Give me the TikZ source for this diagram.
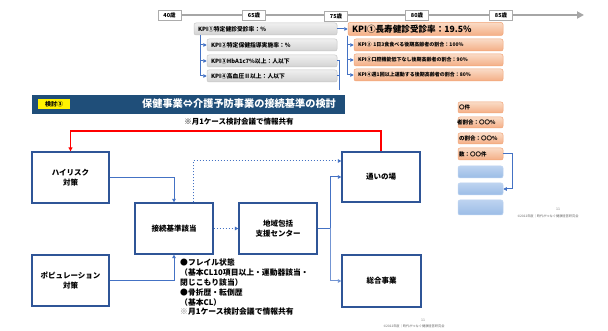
\documentclass[tikz,border=0pt]{standalone}
\usepackage{fontspec}
\setmainfont{Noto Sans CJK JP}
\usetikzlibrary{arrows.meta}
\definecolor{navy}{HTML}{1F4E79}
\definecolor{boxblue}{HTML}{2F5597}
\definecolor{conblue}{HTML}{4472C4}
\definecolor{orlight}{HTML}{FADBC6}
\definecolor{ordark}{HTML}{F4AE85}
\definecolor{orline}{HTML}{F2A477}
\definecolor{bllight}{HTML}{BDD3F0}
\definecolor{bldark}{HTML}{9BBCE6}
\tikzset{
  agebox/.style={draw=gray!65, fill=white, line width=0.9, inner sep=0, minimum width=23, minimum height=10, font=\fontsize{5.5}{6}\selectfont\bfseries},
  graybox/.style={rounded corners=2, top color=gray!12, bottom color=gray!35, draw=gray!45, line width=0.5, inner xsep=4, inner ysep=0, align=left, font=\fontsize{5.8}{6}\selectfont\bfseries},
  orbox/.style={rounded corners=2, top color=orlight, bottom color=ordark, draw=orline, line width=0.5, inner xsep=4, inner ysep=0, align=left, font=\fontsize{5}{6}\selectfont\bfseries},
  blbox/.style={rounded corners=2, top color=bllight, bottom color=bldark, draw=bllight, line width=0.5, inner sep=0},
  mbox/.style={draw=boxblue, line width=1.3, fill=white, align=center, inner sep=0, font=\fontsize{7.5}{10}\selectfont\bfseries},
  con/.style={draw=conblue, line width=1},
  conarrow/.style={con, -{Triangle[length=3.5pt,width=3.5pt]}},
  dotcon/.style={conarrow, dotted, line width=1}
}
\begin{document}
\begin{tikzpicture}[x=1pt,y=-1pt]
\useasboundingbox[fill=white] (0,0) rectangle (608,331);

% ---------------- background slide: timeline ----------------
\coordinate (tlstart) at (158,15);
\coordinate (tlend) at (584,15);
\draw[gray!70, line width=2.6, -{Triangle[length=7pt,width=7pt]}] (tlstart) -- (tlend);
\node[agebox] (a40) at (169.5,15) {40歳};
\node[agebox] (a65) at (254,15) {65歳};
\node[agebox] (a75) at (336,16) {75歳};
\node[agebox] (a80) at (417,15) {80歳};
\node[agebox] (a85) at (501,15) {85歳};

% left KPI column
\node[graybox, text width=135, minimum height=12] (g1) at (265.5,29) {KPI①特定健診受診率：\%};
\node[graybox, text width=122, minimum height=12] (g2) at (272,45) {KPI②特定保健指導実施率：\%};
\node[graybox, text width=122, minimum height=12] (g3) at (272,61) {KPI③HbA1c7\%以上：人以下};
\node[graybox, text width=122, minimum height=12] (g4) at (272,76) {KPI④高血圧Ⅱ以上：人以下};
\coordinate (sp1) at (200,0);
\draw[conarrow] (g1.south -| sp1) |- (g2.west);
\draw[conarrow] (g1.south -| sp1) |- (g3.west);
\draw[conarrow] (g1.south -| sp1) |- (g4.west);
\coordinate (gdown) at (339,90);
\draw[con] (g3.east) -- (g3.east -| gdown) -- (gdown);
\draw[con] (g4.east) -- (g4.east -| gdown);

% right KPI column
\node[orbox, text width=147, minimum height=13, font=\fontsize{8.6}{9}\selectfont\bfseries] (r1) at (425.5,29) {KPI①長寿健診受診率：19.5\%};
\node[orbox, text width=141, minimum height=12] (r2) at (428.5,45) {KPI② 1日3食食べる後期高齢者の割合：100\%};
\node[orbox, text width=141, minimum height=12] (r3) at (428.5,60) {KPI③口腔機能低下なし後期高齢者の割合：90\%};
\node[orbox, text width=141, minimum height=12] (r4) at (428.5,75) {KPI④週1回以上運動する後期高齢者の割合：80\%};
\draw[conarrow] (g1.east) -- (r1.west);
\coordinate (sp2) at (347,0);
\draw[conarrow] (r1.south -| sp2) |- (r2.west);
\draw[conarrow] (r1.south -| sp2) |- (r3.west);
\draw[conarrow] (r1.south -| sp2) |- (r4.west);

% partially hidden boxes on the right
\node[orbox, text width=37, minimum height=11, inner xsep=4, font=\fontsize{5.5}{6}\selectfont\bfseries] (o5) at (480.5,107.5) {\hspace*{-3pt}〇件};
\node[orbox, text width=41, minimum height=11, inner xsep=2, font=\fontsize{5.5}{6}\selectfont\bfseries] (o6) at (480.5,122.5) {\hspace*{-3pt}者割合：〇〇\%};
\node[orbox, text width=41, minimum height=11, inner xsep=2, font=\fontsize{5.5}{6}\selectfont\bfseries] (o7) at (480.5,138.5) {\hspace*{-1pt}の割合：〇〇\%};
\node[orbox, text width=41, minimum height=12, inner xsep=2, font=\fontsize{5.5}{6}\selectfont\bfseries] (o8) at (480.5,154) {\hspace*{-1pt}数：〇〇件};
\node[blbox, minimum width=45, minimum height=12] (b1) at (480.5,172) {};
\node[blbox, minimum width=45, minimum height=12] (b2) at (480.5,189) {};
\node[blbox, minimum width=45, minimum height=15] (b3) at (480.5,207.5) {};
\coordinate (rr) at (512,0);
\draw[conarrow] (o8.east) -- (o8.east -| rr) |- (b2.east);
\node[font=\fontsize{3.5}{4}\selectfont, text=gray] (pg1) at (558,209) {11};
\node[font=\fontsize{3.2}{4}\selectfont, text=gray!80!black] (cp1) at (548,216) {©2022年度｜時代がつなぐ健康経営研究会};

% ---------------- overlay slide ----------------
\fill[navy] (32,95) rectangle (345,114);
\node[fill=yellow, minimum width=32, minimum height=10, inner sep=0, font=\fontsize{6}{7}\selectfont\bfseries] (tag) at (54,104) {検討③};
\node[text=white, font=\fontsize{10.2}{11}\selectfont\bfseries] (title) at (239,104) {保健事業⇔介護予防事業の接続基準の検討};
\node[font=\fontsize{7.5}{8}\selectfont\bfseries] (note1) at (239,122) {※月1ケース検討会議で情報共有};

\node[mbox, minimum width=77, minimum height=51] (hr) at (70.5,177.5) {ハイリスク\\対策};
\node[mbox, minimum width=77, minimum height=51] (pop) at (70.5,280.5) {ポピュレーション\\対策};
\node[mbox, minimum width=78, minimum height=51] (kj) at (174,228.5) {接続基準該当};
\node[mbox, minimum width=78, minimum height=51] (ch) at (278,228.5) {地域包括\\支援センター};
\node[mbox, minimum width=78, minimum height=50] (kayoi) at (381,177) {通いの場};
\node[mbox, minimum width=79, minimum height=52] (sougou) at (381.5,281) {総合事業};

\coordinate (rtop) at (0,131);
\draw[red, line width=1.2, -{Triangle[length=4pt,width=4pt]}] (kayoi.north) -- (kayoi.north |- rtop) -| (hr.north);

\draw[conarrow] (hr.east) -| (kj.north);
\draw[conarrow] (pop.east) -| (kj.south);
\draw[dotcon] (kj.east) -- (ch.west);
\coordinate (dj) at (193,161);
\draw[dotcon] (kj.north -| dj) |- (kayoi.west |- dj);
\coordinate (sp3) at (330,0);
\draw[conarrow] (ch.east) -- (ch.east -| sp3) |- (kayoi.west);
\draw[conarrow, draw=conblue!75] (ch.east -| sp3) |- (sougou.west);

\node[anchor=north west, align=left, inner sep=0, font=\fontsize{7.8}{9.8}\selectfont\bfseries] (crit) at (180,259) {●フレイル状態\\（基本CL10項目以上・運動器該当・\\閉じこもり該当）\\●骨折歴・転倒歴\\（基本CL）\\{\color{gray}※}月1ケース検討会議で情報共有};

\node[font=\fontsize{3.5}{4}\selectfont, text=gray] (pg2) at (423,320) {11};
\node[font=\fontsize{3.2}{4}\selectfont, text=gray!80!black] (cp2) at (414,326) {©2022年度｜時代がつなぐ健康経営研究会};
\end{tikzpicture}
\end{document}
